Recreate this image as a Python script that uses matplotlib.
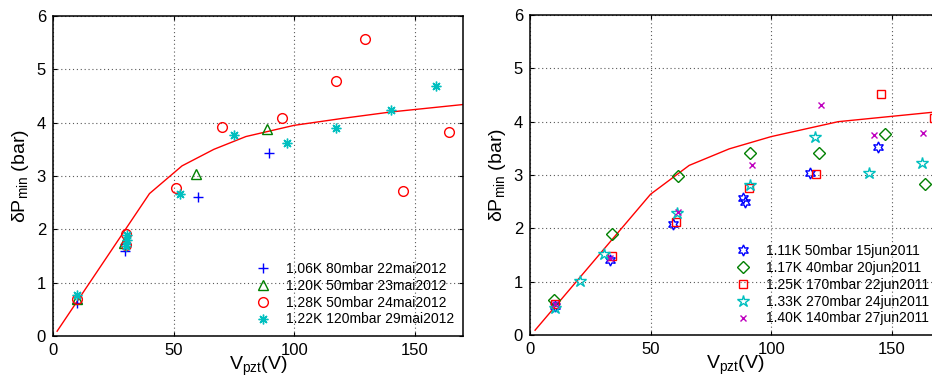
import numpy as np
import matplotlib
matplotlib.use('Agg')
import matplotlib.pyplot as plt

plt.rcParams['font.family'] = ['Liberation Sans', 'DejaVu Sans']
plt.rcParams['mathtext.default'] = 'regular'

# --- modèle (courbe rouge) ---
fit_left_x = [1.7, 40, 53.5, 66.7, 80, 100, 120, 140, 170]
fit_left_y = [0.09, 2.67, 3.19, 3.5, 3.74, 3.95, 4.08, 4.2, 4.34]
fit_right_x = [2.1, 50, 66, 82.6, 100, 127.8, 150, 170]
fit_right_y = [0.09, 2.64, 3.18, 3.49, 3.72, 4.0, 4.1, 4.19]

# --- mai 2012 ---
mai_labels = ['1.06K 80mbar 22mai2012', '1.20K 50mbar 23mai2012',
              '1.28K 50mbar 24mai2012', '1.22K 120mbar 29mai2012']
mai_x = [
    [10, 29.9, 30, 60, 89.4],
    [10, 29.4, 59.2, 88.9],
    [10, 30.3, 30.2, 51, 69.9, 95, 117.5, 129.4, 145.3, 164.3],
    [10, 30.5, 30.5, 30.2, 52.5, 75, 97, 117.5, 140, 158.9],
]
mai_y = [
    [0.61, 1.6, 1.72, 2.61, 3.44],
    [0.7, 1.74, 3.04, 3.89],
    [0.69, 1.92, 1.7, 2.77, 3.92, 4.09, 4.79, 5.56, 2.71, 3.82],
    [0.76, 1.89, 1.8, 1.68, 2.66, 3.76, 3.61, 3.9, 4.24, 4.68],
]

# --- juin 2011 ---
jun_labels = ['1.11K 50mbar 15jun2011', '1.17K 40mbar 20jun2011',
              '1.25K 170mbar 22jun2011', '1.33K 270mbar 24jun2011',
              '1.40K 140mbar 27jun2011']
jun_x = [
    [10.4, 33, 59.4, 88.2, 89.2, 116, 144.2],
    [10.1, 34.2, 61.3, 91.4, 119.7, 147.2, 163.9],
    [10.4, 33.9, 60.6, 90.7, 118.6, 145.6, 167.5],
    [10.4, 20.8, 30.6, 61.1, 91.3, 118.3, 140.6, 162.5],
    [10.4, 33.3, 61.4, 91.9, 120.6, 142.8, 163],
]
jun_y = [
    [0.54, 1.41, 2.08, 2.56, 2.49, 3.04, 3.53],
    [0.66, 1.89, 2.99, 3.41, 3.42, 3.77, 2.84],
    [0.58, 1.48, 2.11, 2.76, 3.01, 4.52, 4.06],
    [0.5, 1.01, 1.52, 2.28, 2.81, 3.72, 3.03, 3.22],
    [0.58, 1.44, 2.3, 3.18, 4.31, 3.75, 3.78],
]

mai_styles = [('+', 'b', 7), ('^', 'g', 7), ('o', 'r', 7), ((8, 2, 0), 'c', 7)]
jun_styles = [((6, 1, 0), 'b', 8), ('D', 'g', 6), ('s', 'r', 6),
              ('*', 'c', 9), ('x', 'm', 5)]


def style_axes(ax):
    ax.set_xlim(0, 170)
    ax.set_ylim(0, 6)
    ax.set_xticks([0, 50, 100, 150])
    ax.set_yticks(range(7))
    ax.grid(True, linestyle=(0, (1, 2.5)), color='0.35', linewidth=0.8)
    ax.tick_params(direction='in', top=True, right=True, labelsize=12,
                   length=3, pad=5)
    for s in ax.spines.values():
        s.set_linewidth(1.1)
    ax.set_xlabel('V$_{pzt}$(V)', fontsize=14, labelpad=-2)
    ax.set_ylabel('δP$_{min}$ (bar)', fontsize=14, labelpad=4)


def add_legend(ax, anchor):
    ax.legend(loc='lower right', bbox_to_anchor=anchor, frameon=False,
              fontsize=10, handlelength=1.3, handletextpad=1.0,
              labelspacing=0.2, borderaxespad=0, borderpad=0)


fig = plt.figure(figsize=(9.32, 3.8), dpi=100)
ax1 = fig.add_axes([53 / 932, 44 / 380, 410 / 932, 320 / 380])
ax2 = fig.add_axes([530 / 932, 45 / 380, 410 / 932, 320 / 380])

ax1.plot(fit_left_x, fit_left_y, 'r-', linewidth=1)
for x, y, lab, (m, c, ms) in zip(mai_x, mai_y, mai_labels, mai_styles):
    ax1.plot(x, y, linestyle='none', marker=m, color=c, markersize=ms,
             markerfacecolor='none', markeredgewidth=1, label=lab)
style_axes(ax1)
add_legend(ax1, (0.978, 0.03))

ax2.plot(fit_right_x, fit_right_y, 'r-', linewidth=1)
for x, y, lab, (m, c, ms) in zip(jun_x, jun_y, jun_labels, jun_styles):
    ax2.plot(x, y, linestyle='none', marker=m, color=c, markersize=ms,
             markerfacecolor='none', markeredgewidth=1, label=lab)
style_axes(ax2)
add_legend(ax2, (0.973, 0.03))

fig.savefig('out.png', dpi=100)
